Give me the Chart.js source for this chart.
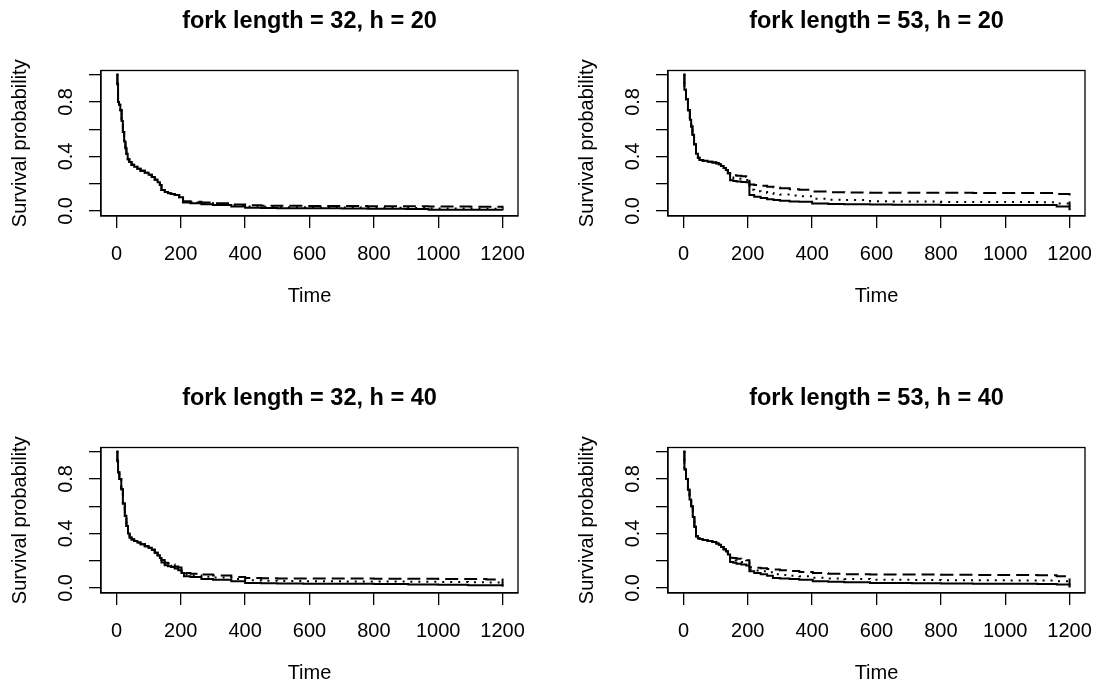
<!DOCTYPE html>
<html><head><meta charset="utf-8">
<script src="https://cdn.jsdelivr.net/npm/chart.js@4/dist/chart.umd.min.js"></script>
<style>
html,body{margin:0;padding:0;background:#fff;width:1097px;height:693px;overflow:hidden;position:relative}
.p{position:absolute;width:530px;height:316px}
canvas{display:block}
</style></head><body>
<div class="p" style="left:0px;top:0px"><canvas id="c0" width="530" height="316"></canvas></div>
<div class="p" style="left:567px;top:0px"><canvas id="c1" width="530" height="316"></canvas></div>
<div class="p" style="left:0px;top:377px"><canvas id="c2" width="530" height="316"></canvas></div>
<div class="p" style="left:567px;top:377px"><canvas id="c3" width="530" height="316"></canvas></div>
<script>
// ---------- tick labels / text ----------
const xTicks = [0, 200, 400, 600, 800, 1000, 1200];
const yTicks = [0, 0.2, 0.4, 0.6, 0.8, 1.0];
const yTickLabels = ['0.0', '', '0.4', '', '0.8', ''];
const titles = ['fork length = 32, h = 20', 'fork length = 53, h = 20', 'fork length = 32, h = 40', 'fork length = 53, h = 40'];
const xTitle = 'Time';
const yTitle = 'Survival probability';

// ---------- panel A: fork length = 32, h = 20 ----------
const timeA = [0,3,5,8,12,16,20,24,28,31,35,40,47,55,65,75,88,100,110,119,128,135,140,150,160,170,181,195,
  207,230,264,300,357,400,450,500,580,700,780,900,970,1100,1200];
const sharedA = [1.0,0.93,0.80,0.78,0.74,0.66,0.58,0.51,0.46,0.42,0.38,0.36,0.34,0.325,0.31,0.295,0.28,0.265,0.25,0.23,0.21,0.19,0.154,0.14,0.13,0.125,0.117,0.10];
const upperA = sharedA.concat([0.071,0.067,0.062,0.057,0.048,0.041,0.039,0.038,0.037,0.036,0.035,0.034,0.032,0.031,0.02]);
const midA   = sharedA.concat([0.066,0.062,0.056,0.050,0.040,0.032,0.030,0.028,0.027,0.026,0.024,0.022,0.018,0.017,0.012]);
const lowerA = sharedA.concat([0.062,0.057,0.050,0.043,0.032,0.024,0.022,0.020,0.019,0.018,0.016,0.014,0.009,0.008,0.004]);

// ---------- panel B: fork length = 53, h = 20 ----------
const timeB = [0,3,8,14,20,24,28,33,39,45,50,60,75,90,102,110,117,125,132,138,
  145,155,165,180,195,205,220,240,260,280,300,330,360,400,450,500,580,650,710,800,900,1000,1100,1160,1200];
const sharedB = [1.0,0.89,0.82,0.74,0.67,0.62,0.56,0.49,0.42,0.39,0.374,0.368,0.362,0.355,0.35,0.342,0.33,0.315,0.30,0.276];
const upperB = sharedB.concat([0.265,0.262,0.258,0.255,0.25,0.195,0.19,0.185,0.178,0.172,0.166,0.16,0.155,0.142,0.138,0.135,0.134,0.134,0.133,0.133,0.132,0.132,0.131,0.125,0.03]);
const midB   = sharedB.concat([0.245,0.24,0.236,0.232,0.228,0.155,0.145,0.14,0.132,0.126,0.12,0.113,0.108,0.09,0.083,0.08,0.072,0.07,0.069,0.066,0.066,0.065,0.064,0.055,0.01]);
const lowerB = sharedB.concat([0.225,0.22,0.217,0.213,0.21,0.117,0.105,0.095,0.086,0.08,0.075,0.07,0.068,0.055,0.052,0.05,0.047,0.046,0.045,0.044,0.044,0.043,0.043,0.032,0.005]);

// ---------- panel C: fork length = 32, h = 40 ----------
const timeC = [0,3,5,9,15,20,26,31,36,41,47,55,65,75,88,100,110,119,128,135,
  140,150,160,170,181,192,202,210,230,264,300,357,400,450,500,580,710,800,907,1000,1093,1150,1200];
const sharedC = [1.0,0.93,0.85,0.80,0.725,0.62,0.53,0.455,0.40,0.37,0.356,0.345,0.333,0.32,0.307,0.295,0.28,0.258,0.24,0.22];
const upperC = sharedC.concat([0.205,0.185,0.18,0.172,0.158,0.15,0.135,0.11,0.105,0.098,0.092,0.081,0.074,0.072,0.07,0.07,0.069,0.068,0.067,0.066,0.066,0.063,0.02]);
const midC   = sharedC.concat([0.195,0.175,0.17,0.163,0.15,0.14,0.122,0.098,0.092,0.082,0.076,0.065,0.056,0.053,0.052,0.05,0.048,0.047,0.045,0.044,0.042,0.04,0.015]);
const lowerC = sharedC.concat([0.186,0.166,0.16,0.153,0.142,0.13,0.11,0.086,0.08,0.066,0.06,0.049,0.037,0.035,0.032,0.031,0.03,0.029,0.025,0.024,0.02,0.019,0.008]);

// ---------- panel D: fork length = 53, h = 40 ----------
const timeD = [0,3,8,14,19,24,29,34,39,45,50,60,75,90,102,110,117,125,132,138,
  145,155,165,180,195,205,220,240,260,278,300,330,360,402,450,500,580,650,710,800,900,1000,1100,1160,1200];
const sharedD = [1.0,0.87,0.80,0.72,0.65,0.60,0.52,0.45,0.38,0.365,0.36,0.352,0.345,0.338,0.327,0.318,0.30,0.285,0.27,0.246];
const upperD = sharedD.concat([0.222,0.22,0.215,0.21,0.204,0.152,0.148,0.144,0.14,0.136,0.13,0.124,0.118,0.11,0.104,0.1,0.098,0.098,0.098,0.097,0.096,0.095,0.094,0.086,0.02]);
const midD   = sharedD.concat([0.206,0.202,0.197,0.19,0.185,0.135,0.128,0.122,0.115,0.1,0.096,0.09,0.086,0.075,0.07,0.066,0.061,0.06,0.059,0.057,0.056,0.055,0.054,0.05,0.01]);
const lowerD = sharedD.concat([0.19,0.185,0.178,0.172,0.165,0.123,0.11,0.1,0.09,0.074,0.07,0.065,0.06,0.049,0.045,0.042,0.037,0.036,0.035,0.032,0.031,0.03,0.029,0.025,0.003]);

const FONT = "'Liberation Sans', Arial, Helvetica, sans-serif";
Chart.defaults.font.family = FONT;
Chart.defaults.color = '#000';

const decor = {
  id: 'decor',
  afterDraw(chart, args, opts) {
    const ctx = chart.ctx, a = chart.chartArea, y = chart.scales.y;
    ctx.save();
    ctx.strokeStyle = '#000';
    ctx.lineWidth = 1.3;
    ctx.strokeRect(a.left, a.top, a.right - a.left, a.bottom - a.top);
    ctx.fillStyle = '#000';
    const cx = (a.left + a.right) / 2;
    ctx.textAlign = 'center';
    ctx.textBaseline = 'alphabetic';
    ctx.font = "bold 23.5px " + FONT;
    ctx.fillText(opts.title, cx, 28);
    ctx.font = "20px " + FONT;
    ctx.fillText(xTitle, cx, 302);
    yTicks.forEach((v, i) => {
      if (!yTickLabels[i]) return;
      const py = y.getPixelForValue(v);
      ctx.save();
      ctx.translate(72, py);
      ctx.rotate(-Math.PI / 2);
      ctx.fillText(yTickLabels[i], 0, 0);
      ctx.restore();
    });
    ctx.save();
    ctx.translate(26, (a.top + a.bottom) / 2);
    ctx.rotate(-Math.PI / 2);
    ctx.fillText(yTitle, 0, 0);
    ctx.restore();
    ctx.restore();
  }
};

function pts(t, v) { return t.map((x, i) => ({ x: x, y: v[i] })); }

function makeChart(id, title, t, lower, mid, upper) {
  const base = { borderColor: '#000', pointRadius: 0, stepped: 'before', fill: false, borderWidth: 2, tension: 0 };
  new Chart(document.getElementById(id), {
    type: 'line',
    data: {
      datasets: [
        Object.assign({ data: pts(t, lower) }, base),
        Object.assign({ data: pts(t, mid), borderDash: [2, 6] }, base),
        Object.assign({ data: pts(t, upper), borderDash: [13, 6] }, base)
      ]
    },
    options: {
      responsive: false,
      animation: false,
      devicePixelRatio: 1,
      layout: { padding: { top: 70.5, right: 12, left: 0, bottom: 0 } },
      plugins: { legend: { display: false }, tooltip: { enabled: false }, title: { display: false }, decor: { title: title } },
      scales: {
        x: {
          type: 'linear', min: -48, max: 1248,
          afterBuildTicks: s => { s.ticks = xTicks.map(v => ({ value: v })); },
          afterFit: s => { s.height = 100; s.paddingLeft = 0; s.paddingRight = 0; },
          grid: { drawOnChartArea: false, drawTicks: true, tickLength: 12, color: '#000', lineWidth: 1.3 },
          border: { display: true, color: '#000', width: 1.3 },
          ticks: { color: '#000', font: { size: 20 }, padding: 14, maxRotation: 0, minRotation: 0, autoSkip: false,
                   callback: v => String(v) }
        },
        y: {
          type: 'linear', min: -0.037, max: 1.031,
          afterBuildTicks: s => { s.ticks = yTicks.map(v => ({ value: v })); },
          afterFit: s => { s.width = 101; s.paddingTop = 0; s.paddingBottom = 0; },
          grid: { drawOnChartArea: false, drawTicks: true, tickLength: 12, color: '#000', lineWidth: 1.3 },
          border: { display: true, color: '#000', width: 1.3 },
          ticks: { display: false }
        }
      }
    },
    plugins: [decor]
  });
}

makeChart('c0', titles[0], timeA, lowerA, midA, upperA);
makeChart('c1', titles[1], timeB, lowerB, midB, upperB);
makeChart('c2', titles[2], timeC, lowerC, midC, upperC);
makeChart('c3', titles[3], timeD, lowerD, midD, upperD);
</script>
</body></html>
